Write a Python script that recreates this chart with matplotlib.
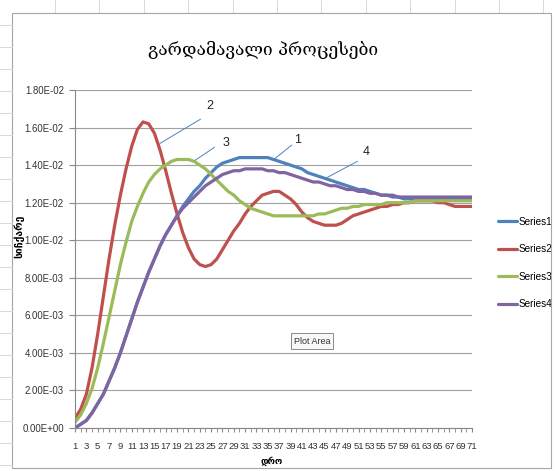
import numpy as np
import matplotlib.pyplot as plt
from matplotlib.patches import Rectangle
from matplotlib.lines import Line2D

plt.rcParams['font.family'] = ['Liberation Sans', 'DejaVu Sans']

title = 'გარდამავალი პროცესები'
ylabel = 'სიჩქარე'
xlabel = 'დრო'

series_names = ['Series1', 'Series2', 'Series3', 'Series4']
colors = ['#4F81BD', '#C0504D', '#9BBB59', '#8064A2']

steps = list(range(1, 72))

series1 = [0.0000, 0.0002, 0.0004, 0.0008, 0.0013, 0.0018, 0.0025, 0.0032, 0.0040, 0.0049,
           0.0058, 0.0067, 0.0075, 0.0083, 0.0090, 0.0097, 0.0103, 0.0108, 0.0113, 0.0118,
           0.0122, 0.0126, 0.0129, 0.0133, 0.0136, 0.0139, 0.0141, 0.0142, 0.0143, 0.0144,
           0.0144, 0.0144, 0.0144, 0.0144, 0.0144, 0.0143, 0.0142, 0.0141, 0.0140, 0.0139,
           0.0138, 0.0136, 0.0135, 0.0134, 0.0133, 0.0132, 0.0131, 0.0130, 0.0129, 0.0128,
           0.0127, 0.0127, 0.0126, 0.0125, 0.0124, 0.0124, 0.0123, 0.0123, 0.0122, 0.0122,
           0.0122, 0.0122, 0.0122, 0.0122, 0.0122, 0.0122, 0.0122, 0.0122, 0.0122, 0.0122,
           0.0122]

series2 = [0.0005, 0.0010, 0.0018, 0.0032, 0.0050, 0.0070, 0.0090, 0.0108, 0.0124, 0.0138,
           0.0150, 0.0159, 0.0163, 0.0162, 0.0157, 0.0148, 0.0137, 0.0125, 0.0114, 0.0104,
           0.0096, 0.0090, 0.0087, 0.0086, 0.0087, 0.0090, 0.0095, 0.0100, 0.0105, 0.0109,
           0.0114, 0.0118, 0.0121, 0.0124, 0.0125, 0.0126, 0.0126, 0.0124, 0.0122, 0.0119,
           0.0115, 0.0112, 0.0110, 0.0109, 0.0108, 0.0108, 0.0108, 0.0109, 0.0111, 0.0113,
           0.0114, 0.0115, 0.0116, 0.0117, 0.0118, 0.0118, 0.0119, 0.0119, 0.0120, 0.0120,
           0.0121, 0.0121, 0.0121, 0.0121, 0.0120, 0.0120, 0.0119, 0.0118, 0.0118, 0.0118,
           0.0118]

series3 = [0.0003, 0.0007, 0.0013, 0.0021, 0.0032, 0.0045, 0.0059, 0.0073, 0.0087, 0.0099,
           0.0110, 0.0118, 0.0125, 0.0131, 0.0135, 0.0138, 0.0140, 0.0142, 0.0143, 0.0143,
           0.0143, 0.0142, 0.0140, 0.0138, 0.0135, 0.0132, 0.0129, 0.0126, 0.0124, 0.0121,
           0.0119, 0.0117, 0.0116, 0.0115, 0.0114, 0.0113, 0.0113, 0.0113, 0.0113, 0.0113,
           0.0113, 0.0113, 0.0113, 0.0114, 0.0114, 0.0115, 0.0116, 0.0117, 0.0117, 0.0118,
           0.0118, 0.0119, 0.0119, 0.0119, 0.0119, 0.0120, 0.0120, 0.0120, 0.0120, 0.0120,
           0.0121, 0.0121, 0.0121, 0.0121, 0.0121, 0.0121, 0.0121, 0.0121, 0.0121, 0.0121,
           0.0121]

series4 = [0.0000, 0.0002, 0.0004, 0.0008, 0.0013, 0.0018, 0.0025, 0.0032, 0.0040, 0.0049,
           0.0058, 0.0067, 0.0075, 0.0083, 0.0090, 0.0097, 0.0103, 0.0108, 0.0113, 0.0117,
           0.0120, 0.0123, 0.0126, 0.0129, 0.0131, 0.0133, 0.0135, 0.0136, 0.0137, 0.0137,
           0.0138, 0.0138, 0.0138, 0.0138, 0.0137, 0.0137, 0.0136, 0.0136, 0.0135, 0.0134,
           0.0133, 0.0132, 0.0131, 0.0131, 0.0130, 0.0129, 0.0129, 0.0128, 0.0127, 0.0127,
           0.0126, 0.0126, 0.0125, 0.0125, 0.0124, 0.0124, 0.0124, 0.0123, 0.0123, 0.0123,
           0.0123, 0.0123, 0.0123, 0.0123, 0.0123, 0.0123, 0.0123, 0.0123, 0.0123, 0.0123,
           0.0123]

# callout labels: text, text position, leader start, leader end (data coords)
callouts = [('2', (24.7, 0.01713), (23.1, 0.01644), (16.0, 0.01516)),
            ('3', (27.7, 0.01516), (25.6, 0.01495), (22.2, 0.01426)),
            ('1', (40.2, 0.01532), (39.2, 0.01506), (36.3, 0.01436)),
            ('4', (52.4, 0.01468), (50.8, 0.01420), (45.2, 0.01330))]

W, H = 555, 471
fig = plt.figure(figsize=(W / 100, H / 100), dpi=100)

#  spreadsheet cell borders behind the chart
for xc in np.arange(55, 555, 44.4):
    fig.add_artist(Line2D([xc / W, xc / W], [1 - 12 / H, 1], color='#d8d8d8', lw=0.7))
for yc in np.arange(25, 471, 22):
    fig.add_artist(Line2D([0, 12 / W], [1 - yc / H, 1 - yc / H], color='#d8d8d8', lw=0.7))

#  chart area frame
fig.add_artist(Rectangle((12 / W, 1 - 468 / H), (551 - 12) / W, (468 - 13) / H,
                         transform=fig.transFigure, fill=False, ec='#a6a6a6', lw=0.8))

ax = fig.add_axes([75 / W, 1 - 428 / H, (472 - 75) / W, (428 - 90) / H])

for name, vals, c in zip(series_names, [series1, series2, series3, series4], colors):
    ax.plot(steps, vals, color=c, lw=2.3, label=name, solid_capstyle='round')

ax.set_xlim(1, 71)
ax.set_ylim(0, 0.018)
yt = np.arange(0, 0.0181, 0.002)
ax.set_yticks(yt)
ax.set_yticklabels(['%.2E' % v for v in yt])
ax.set_xticks(steps[::2])
ax.set_xticks(steps, minor=True)
ax.set_xticklabels([str(s) for s in steps[::2]])
ax.tick_params(axis='x', which='both', length=3, color='#888888', labelsize=6.8,
               labelcolor='#333333', pad=7)
ax.tick_params(axis='y', length=4, color='#888888', labelsize=6.9, labelcolor='#333333',
               pad=4)
ax.grid(axis='y', color='#a0a0a0', lw=0.8)
ax.set_axisbelow(True)
for s in ['top', 'right']:
    ax.spines[s].set_visible(False)
for s in ['left', 'bottom']:
    ax.spines[s].set_color('#888888')

for lab, tpos, p0, p1 in callouts:
    ax.plot([p0[0], p1[0]], [p0[1], p1[1]], color='#4F81BD', lw=0.7)
    ax.text(tpos[0], tpos[1], lab, fontsize=9, ha='center', va='center', color='#222222')

fig.text(263 / W, 1 - 50 / H, title, fontsize=12.5, ha='center', va='center',
         family=['DejaVu Serif', 'DejaVu Sans'])
fig.text(19 / W, 1 - 236 / H, ylabel, fontsize=7.5, rotation=90, ha='center', va='center',
         fontweight='bold', family=['DejaVu Sans'])
fig.text(272 / W, 1 - 461 / H, xlabel, fontsize=6.5, ha='center', va='center',
         fontweight='bold', family=['DejaVu Sans'])

fig.text(312 / W, 1 - 341 / H, 'Plot Area', fontsize=6.5, ha='center', va='center',
         color='#333333',
         bbox=dict(boxstyle='square,pad=0.35', fc='#f8f8f8', ec='#8a8a8a', lw=0.7))

ax.legend(loc='center left', bbox_to_anchor=(489 / W, 1 - 263 / H),
          bbox_transform=fig.transFigure, frameon=False, fontsize=7.2,
          handlelength=1.9, handletextpad=0.15, labelspacing=1.75)

fig.savefig('out.png', dpi=100)
